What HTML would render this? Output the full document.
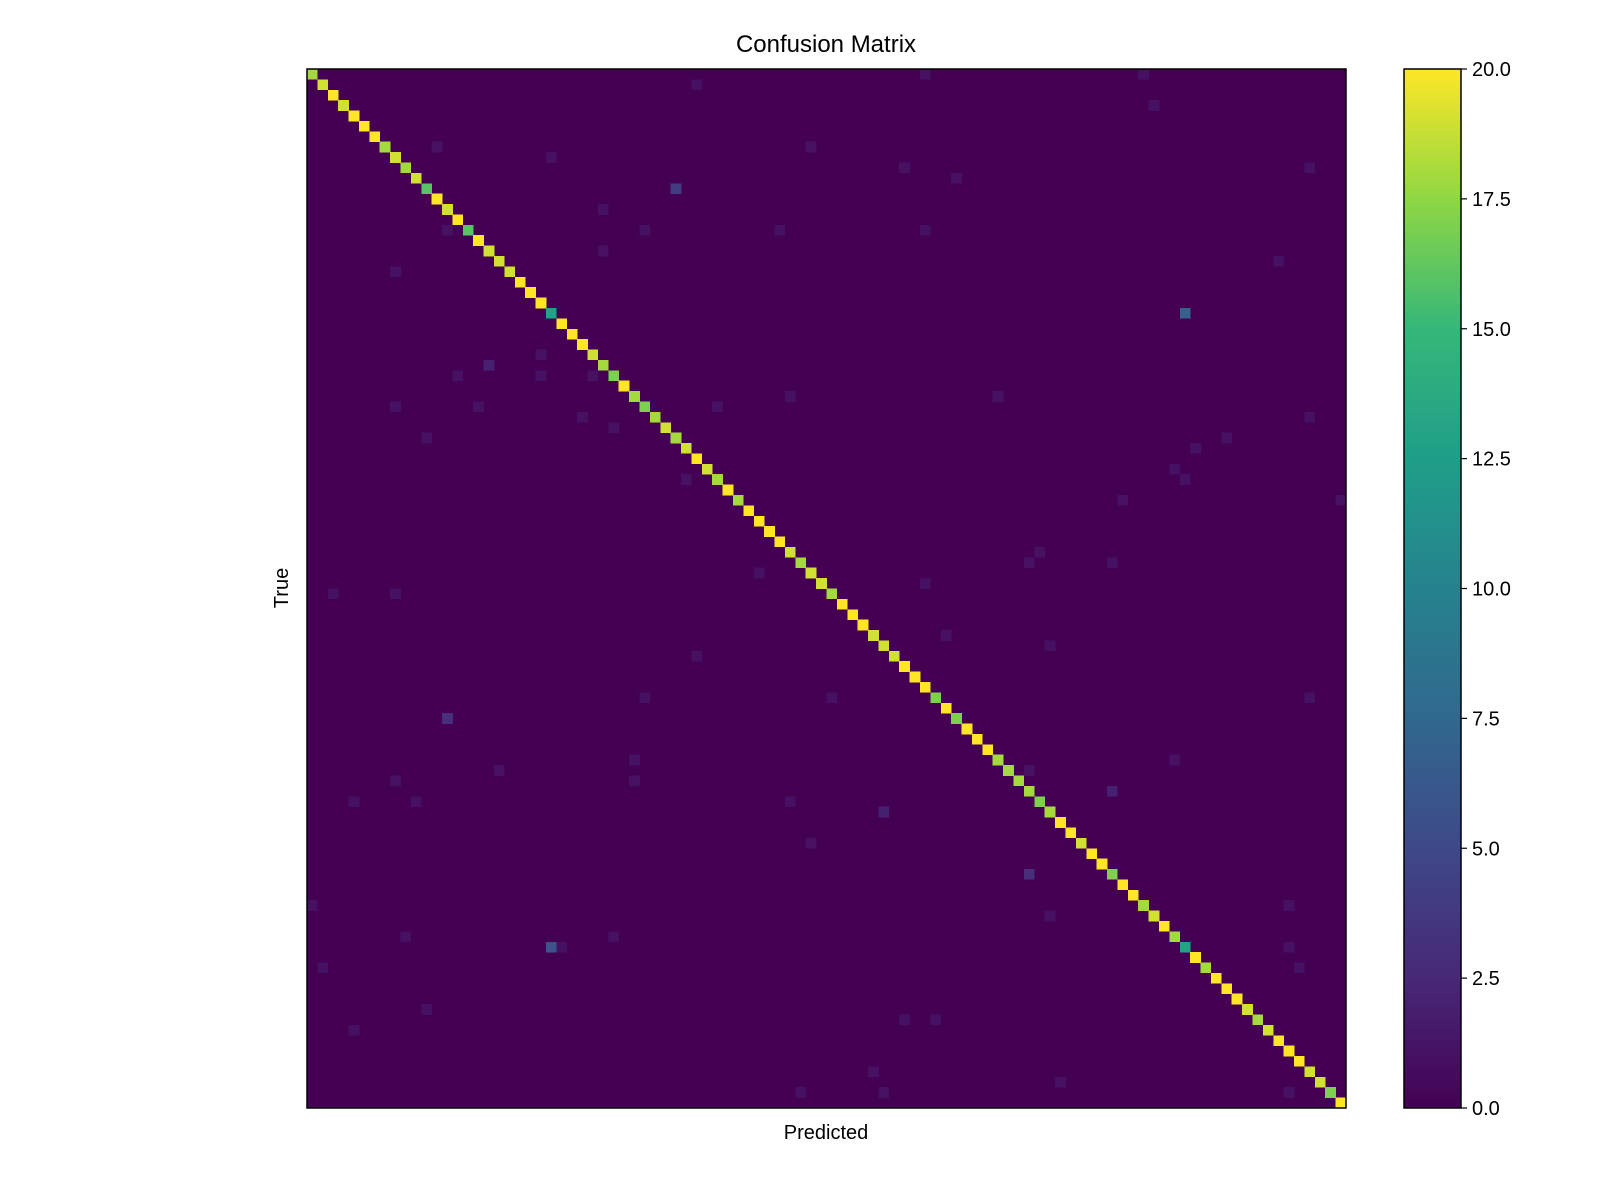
<!DOCTYPE html>
<html><head><meta charset="utf-8"><style>
body{margin:0;background:#fff;}
svg{display:block;font-family:"Liberation Sans","DejaVu Sans",sans-serif;}
</style></head><body>
<svg id="chart" width="1600" height="1200" viewBox="0 0 1600 1200" xmlns="http://www.w3.org/2000/svg">
<defs>
<linearGradient id="vir" x1="0" y1="1" x2="0" y2="0">
<stop offset="0" stop-color="#440154"/><stop offset="0.125" stop-color="#482878"/><stop offset="0.25" stop-color="#3e4989"/><stop offset="0.375" stop-color="#31688e"/><stop offset="0.5" stop-color="#26828e"/><stop offset="0.625" stop-color="#1f9e89"/><stop offset="0.75" stop-color="#35b779"/><stop offset="0.875" stop-color="#8fd744"/><stop offset="1" stop-color="#fde725"/>
</linearGradient>
</defs>
<text x="826" y="52" font-size="24" text-anchor="middle">Confusion Matrix</text>
<g id="cells" shape-rendering="crispEdges"></g>
<rect x="307" y="69" width="1039" height="1039" fill="none" stroke="#000" stroke-width="1.5"/>
<text x="0" y="0" font-size="20" text-anchor="middle" transform="translate(288,588) rotate(-90)">True</text>
<text x="826" y="1139" font-size="20" text-anchor="middle">Predicted</text>
<rect x="1404" y="69" width="57" height="1039" fill="url(#vir)" stroke="#000" stroke-width="1.5"/>
<g id="cbticks"></g>
</svg>
<script>
const N = 100;
const vmax = 20;
const diagValues = [18,19,20,19,20,20,20,18,19,18,19,16,20,19,20,16,20,19,19,19,20,20,20,13,20,20,20,19,18,17,20,18,17,18,19,18,19,20,19,18,20,18,20,20,20,20,19,18,19,19,18,20,20,20,19,19,19,20,20,20,17,20,17,20,20,20,18,18,18,18,17,18,20,20,19,20,20,17,20,20,18,19,20,18,13,20,18,20,20,20,19,18,19,20,20,20,19,19,17,20];
const offRows = [0,0,1,3,7,7,8,9,9,10,11,13,15,15,15,15,17,18,19,23,27,28,29,29,29,31,31,32,32,32,33,33,34,35,35,36,38,39,39,41,41,46,47,47,48,49,50,50,54,55,56,60,60,60,62,66,66,67,67,68,68,69,70,70,70,71,74,77,80,80,81,83,83,84,84,84,86,86,90,91,91,92,96,97,98,98,98];
const offCols = [59,80,37,81,12,48,23,57,96,62,35,28,13,32,45,59,28,93,8,84,22,17,14,22,27,46,66,8,16,39,26,96,29,11,88,85,83,36,84,78,99,70,69,77,43,59,2,8,61,71,37,32,50,96,13,31,83,18,69,8,31,77,4,10,46,55,48,69,0,94,71,9,29,23,24,94,1,95,11,57,60,4,54,72,47,55,94];
const offValues = [1,1,1,1,1,1,1,1,1,1,4,1,1,1,1,1,1,1,1,7,1,2,1,1,1,1,1,1,1,1,1,1,1,1,1,1,1,1,1,1,1,1,1,1,1,1,1,1,1,1,1,1,1,1,3,1,1,1,1,1,1,2,1,1,1,2,1,3,1,1,1,1,1,6,1,1,1,1,1,1,1,1,1,1,1,1,1];
const cbTicks = [0,2.5,5,7.5,10,12.5,15,17.5,20];
const cbTickLabels = ["0.0","2.5","5.0","7.5","10.0","12.5","15.0","17.5","20.0"];

const X0=307, Y0=69, W=1039, H=1039, cw=W/N, ch=H/N;
const xPos = c => X0 + c*cw;
const yPos = r => Y0 + r*ch;
const stops=[[0,'#440154'],[0.125,'#482878'],[0.25,'#3e4989'],[0.375,'#31688e'],[0.5,'#26828e'],[0.625,'#1f9e89'],[0.75,'#35b779'],[0.875,'#8fd744'],[1,'#fde725']];
function hx(h){return [1,3,5].map(i=>parseInt(h.substr(i,2),16));}
function viridis(t){t=Math.max(0,Math.min(1,t));for(let i=1;i<stops.length;i++){if(t<=stops[i][0]){const a=stops[i-1],b=stops[i];const f=(t-a[0])/(b[0]-a[0]);const ca=hx(a[1]),cb=hx(b[1]);return 'rgb('+ca.map((v,k)=>Math.round(v+(cb[k]-v)*f)).join(',')+')';}}return stops[stops.length-1][1];}
const NS='http://www.w3.org/2000/svg';
const g=document.getElementById('cells');
const bg=document.createElementNS(NS,'rect');
bg.setAttribute('x',X0);bg.setAttribute('y',Y0);bg.setAttribute('width',W);bg.setAttribute('height',H);bg.setAttribute('fill',viridis(0));


g.appendChild(bg);
function cell(r,c,v,name){
  const e=document.createElementNS(NS,'rect');
  e.setAttribute('x',xPos(c));e.setAttribute('y',yPos(r));e.setAttribute('width',cw+0.3);e.setAttribute('height',ch+0.3);
  e.setAttribute('fill',viridis(v/vmax));
  
  
  g.appendChild(e);
}
diagValues.forEach((v,i)=>{ if(v>0) cell(i,i,v,'diagonal-cell'); });
offRows.forEach((r,i)=>{ if(offValues[i]>0) cell(r,offCols[i],offValues[i],'off-diagonal-cell'); });
const tg=document.getElementById('cbticks');
cbTicks.forEach((t,i)=>{
  const y=Y0+H-(t/vmax)*H;
  const l=document.createElementNS(NS,'line');
  l.setAttribute('x1',1461);l.setAttribute('x2',1467);l.setAttribute('y1',y);l.setAttribute('y2',y);l.setAttribute('stroke','#000');l.setAttribute('stroke-width','1.2');
  
  
  tg.appendChild(l);
  const tx=document.createElementNS(NS,'text');
  tx.setAttribute('x',1472);tx.setAttribute('y',y+7);tx.setAttribute('font-size','20');
  tx.textContent=cbTickLabels[i];
  
  
  tg.appendChild(tx);
});
</script>
</body></html>
